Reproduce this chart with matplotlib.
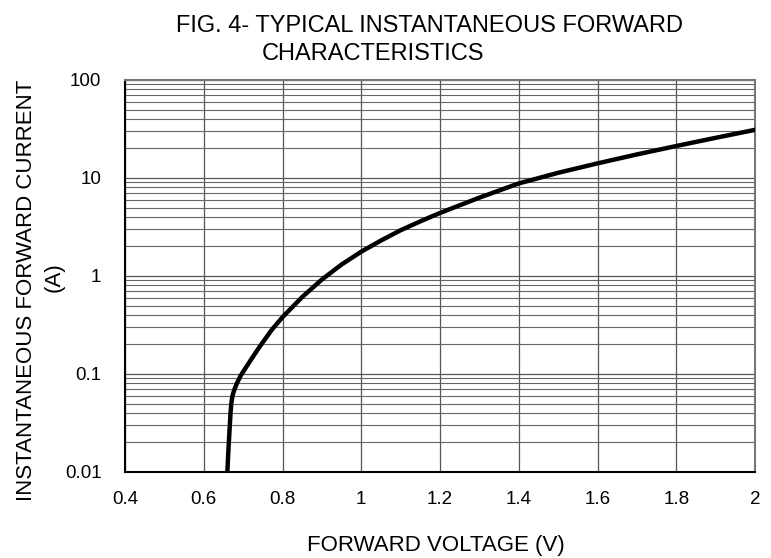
import numpy as np
import matplotlib
matplotlib.use("Agg")
from matplotlib import pyplot as plt
from matplotlib.ticker import FixedLocator, LogLocator, NullFormatter

# Прямая характеристика
voltage = [0.660, 0.662, 0.664, 0.668, 0.670, 0.673, 0.677, 0.684, 0.693,
           0.703, 0.720, 0.740, 0.772, 0.800, 0.850, 0.900, 0.950, 1.000,
           1.050, 1.100, 1.150, 1.200, 1.300, 1.400, 1.500, 1.600, 1.700,
           1.800, 1.900, 2.000]
current = [0.010, 0.015, 0.021, 0.040, 0.050, 0.060, 0.068, 0.080, 0.095,
           0.110, 0.140, 0.185, 0.280, 0.380, 0.610, 0.920, 1.31, 1.77,
           2.30, 2.93, 3.61, 4.40, 6.30, 8.80, 11.3, 14.1, 17.4,
           21.2, 25.7, 31.0]

x_ticks = [0.4, 0.6, 0.8, 1.0, 1.2, 1.4, 1.6, 1.8, 2.0]
x_labels = ["0.4", "0.6", "0.8", "1", "1.2", "1.4", "1.6", "1.8", "2"]
y_ticks = [0.01, 0.1, 1, 10, 100]
y_labels = ["0.01", "0.1", "1", "10", "100"]

plt.rcParams["font.family"] = ["Liberation Sans", "DejaVu Sans"]

W, H = 771, 558
fig = plt.figure(figsize=(W / 100, H / 100), dpi=100)
ax = fig.add_axes([125 / W, 1 - 472 / H, 630 / W, 392 / H])

ax.set_yscale("log")
ax.set_xlim(0.4, 2.0)
ax.set_ylim(0.01, 100)

ax.plot(voltage, current, color="black", lw=3.2, solid_capstyle="round",
        solid_joinstyle="round", zorder=3)

ax.xaxis.set_major_locator(FixedLocator(x_ticks))
ax.set_xticklabels(x_labels)
ax.yaxis.set_major_locator(FixedLocator(y_ticks))
ax.set_yticklabels(y_labels)
ax.yaxis.set_minor_locator(LogLocator(base=10, subs=np.arange(2, 10)))
ax.yaxis.set_minor_formatter(NullFormatter())

ax.grid(which="major", axis="both", color="#555555", lw=0.9)
ax.grid(which="minor", axis="y", color="#666666", lw=0.8)

ax.tick_params(axis="both", which="both", length=0, labelsize=13.5,
               colors="black")
ax.tick_params(axis="x", pad=14)
ax.tick_params(axis="y", pad=17)

for name, sp in ax.spines.items():
    sp.set_linewidth(1.5)
    sp.set_color("black")
ax.spines["right"].set_color("#777777")
ax.spines["top"].set_color("#777777")

# Подписи
fig.text(176 / W, 1 - 25.5 / H, "FIG. 4- TYPICAL INSTANTANEOUS FORWARD",
         ha="left", va="center", fontsize=17)
fig.text(262 / W, 1 - 53.5 / H, "CHARACTERISTICS",
         ha="left", va="center", fontsize=17)
fig.text(436 / W, 1 - 546 / H, "FORWARD VOLTAGE (V)",
         ha="center", va="center", fontsize=16)
fig.text(26.5 / W, 1 - 290 / H, "INSTANTANEOUS FORWARD CURRENT",
         ha="center", va="center", rotation=90, fontsize=16)
fig.text(54.5 / W, 1 - 277 / H, "(A)",
         ha="center", va="center", rotation=90, fontsize=16)

fig.savefig("out.png", dpi=100)
